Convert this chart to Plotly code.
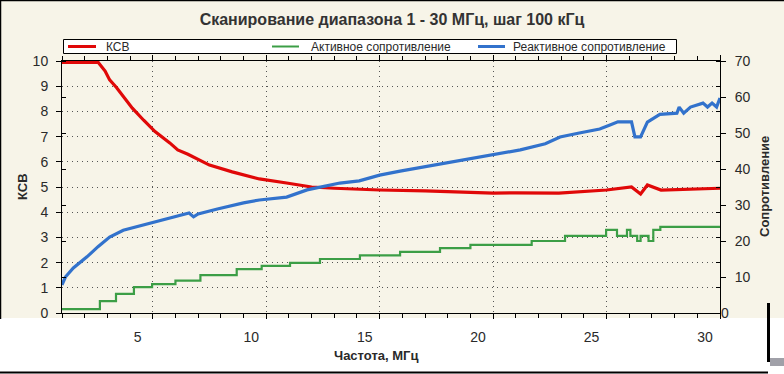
import plotly.graph_objects as go

# ---------------- data ----------------
freq_ksv = [1.0, 2.6, 2.9, 3.1, 3.4, 3.65, 4.1, 4.6, 5.1, 5.75, 6.1, 6.55, 6.8, 7.5, 8.5,
            9.7, 10.9, 12.0, 13.0, 13.8, 15.0, 17.0, 19.0, 20.0, 21.0, 22.9, 25.0, 26.1,
            26.5, 26.8, 27.4, 28.8, 29.9, 30.0]
ksv = [9.94, 9.94, 9.6, 9.25, 8.95, 8.65, 8.13, 7.65, 7.2, 6.75, 6.47, 6.3, 6.19, 5.87, 5.6,
       5.32, 5.16, 5.0, 4.95, 4.92, 4.88, 4.85, 4.8, 4.76, 4.77, 4.76, 4.88, 5.0,
       4.72, 5.08, 4.88, 4.92, 4.96, 4.95]

freq_act = [1.0, 2.67, 3.38, 4.17, 4.97, 6.0, 7.1, 8.7, 9.8, 11.05, 12.37, 14.13, 15.9, 17.66,
            19.0, 21.7, 23.17, 24.98, 25.46, 25.9, 26.05, 26.35, 26.5, 26.85, 27.06, 27.37, 30.0]
active = [1.1, 3.3, 5.3, 7.2, 8.0, 9.0, 10.5, 12.2, 13.1, 13.9, 15.0, 16.0, 17.0, 18.0,
          18.9, 20.0, 21.4, 23.1, 21.4, 23.1, 21.4, 20.0, 21.4, 20.0, 23.1, 23.9, 23.8]

freq_react = [1.0, 1.15, 1.5, 2.1, 2.6, 3.1, 3.7, 4.3, 4.9, 5.9, 6.6, 6.8, 7.0, 7.85, 9.0,
              9.7, 10.9, 11.8, 13.25, 14.1, 15.0, 15.9, 17.2, 18.5, 20.0, 21.2, 22.3, 22.95,
              23.8, 24.7, 25.15, 25.5, 26.1, 26.25, 26.5, 26.8, 27.35, 28.1, 28.2, 28.4,
              28.7, 29.25, 29.45, 29.65, 29.85, 30.0]
react = [7.8, 10.0, 12.5, 15.6, 18.5, 21.1, 23.0, 24.0, 25.0, 26.7, 27.8, 26.7, 27.5, 28.9, 30.6,
         31.4, 32.2, 34.2, 36.1, 36.7, 38.3, 39.4, 40.8, 42.2, 43.9, 45.3, 47.0, 48.9,
         50.0, 51.1, 52.2, 53.1, 53.1, 48.9, 48.9, 53.0, 55.2, 55.5, 57.2, 55.5,
         57.2, 58.3, 57.2, 58.3, 57.2, 59.7]

title_text = "Сканирование диапазона 1 - 30 МГц, шаг 100 кГц"
names = ["КСВ", "Активное сопротивление", "Реактивное сопротивление"]
x_title = "Частота, МГц"
y_title = "КСВ"
y2_title = "Сопротивление"
left_ticks = list(range(0, 11))
right_ticks = [10, 20, 30, 40, 50, 60, 70]
x_ticks = [5, 10, 15, 20, 25, 30]

# ---------------- styling ----------------
W, H = 784, 374
L, R, T, B = 62, 720, 61, 313
RED, GREEN, BLUE = "#E00808", "#3C9E46", "#3272CC"
FONT = "Liberation Sans, Arial, sans-serif"
TXT = "#2a2a2a"


def px(xp):
    return (xp - L) / (R - L)


def py(yp):
    return (B - yp) / (B - T)


fig = go.Figure()
fig.add_trace(go.Scatter(x=freq_ksv, y=ksv, mode="lines", name=names[0],
                         line=dict(color=RED, width=3.2), yaxis="y"))
fig.add_trace(go.Scatter(x=freq_act, y=active, mode="lines", name=names[1],
                         line=dict(color=GREEN, width=2.2, shape="hv"), yaxis="y2"))
fig.add_trace(go.Scatter(x=freq_react, y=react, mode="lines", name=names[2],
                         line=dict(color=BLUE, width=3.2), yaxis="y2"))

shapes = []
# cream upper background and window borders
shapes.append(dict(type="rect", xref="paper", yref="paper", x0=px(0), x1=px(W), y0=py(318),
                   y1=py(0), fillcolor="#F7F4E8", line=dict(width=0), layer="below"))
shapes.append(dict(type="line", xref="paper", yref="paper", x0=px(0.5), x1=px(0.5),
                   y0=py(0), y1=py(319), line=dict(color="black", width=1.5)))
shapes.append(dict(type="line", xref="paper", yref="paper", x0=px(0), x1=px(W),
                   y0=py(0.5), y1=py(0.5), line=dict(color="black", width=1.5)))
shapes.append(dict(type="line", xref="paper", yref="paper", x0=px(0), x1=px(768),
                   y0=py(372.5), y1=py(372.5), line=dict(color="black", width=2)))
shapes.append(dict(type="line", xref="paper", yref="paper", x0=px(768.5), x1=px(768.5),
                   y0=py(303), y1=py(362), line=dict(color="black", width=3)))
shapes.append(dict(type="rect", xref="paper", yref="paper", x0=px(770), x1=px(W),
                   y0=py(366), y1=py(358), fillcolor="#A0A0A8", line=dict(width=0)))
# legend box
shapes.append(dict(type="rect", xref="paper", yref="paper", x0=px(63.5), x1=px(676.5),
                   y0=py(53.5), y1=py(39.5), fillcolor="white", line=dict(color="black", width=1)))
leg = [(68, 96, RED, 3, 104), (272, 299, GREEN, 2, 309), (478, 505, BLUE, 3, 511)]
annotations = []
for (a, b, c, w, tx), nm in zip(leg, names):
    shapes.append(dict(type="line", xref="paper", yref="paper", x0=px(a), x1=px(b),
                       y0=py(46.5), y1=py(46.5), line=dict(color=c, width=w)))
    annotations.append(dict(text=nm, xref="paper", yref="paper", x=px(tx), y=py(46.5),
                            xanchor="left", yanchor="middle", showarrow=False,
                            font=dict(family=FONT, size=12, color=TXT)))

annotations += [
    dict(text=f"<b>{y_title}</b>", xref="paper", yref="paper", x=px(22), y=py(187),
         textangle=-90, showarrow=False, xanchor="center", yanchor="middle",
         font=dict(family=FONT, size=13, color=TXT)),
    dict(text=f"<b>{y2_title}</b>", xref="paper", yref="paper", x=px(764), y=py(187),
         textangle=-90, showarrow=False, xanchor="center", yanchor="middle",
         font=dict(family=FONT, size=13, color=TXT)),
    dict(text=f"<b>{x_title}</b>", xref="paper", yref="paper", x=px(376), y=py(355),
         showarrow=False, xanchor="center", yanchor="middle",
         font=dict(family=FONT, size=13, color=TXT)),
    dict(text="0", xref="paper", yref="paper", x=px(725), y=py(313),
         showarrow=False, xanchor="center", yanchor="middle",
         font=dict(family=FONT, size=14, color=TXT)),
]

axis_common = dict(showline=True, linecolor="black", linewidth=1, zeroline=False,
                   tickcolor="black", tickfont=dict(family=FONT, size=14, color=TXT),
                   gridcolor="#555555", griddash="1px,4px", gridwidth=1)

fig.update_layout(
    width=W, height=H,
    margin=dict(l=L, r=W - R, t=T, b=H - B),
    paper_bgcolor="white", plot_bgcolor="#FAF6E3",
    showlegend=False,
    title=dict(text=f"<b>{title_text}</b>", x=0.5, xref="container", xanchor="center",
               y=1 - 19 / H, yref="container", yanchor="middle",
               font=dict(family=FONT, size=16, color="#333333")),
    xaxis=dict(range=[1, 30], tickvals=x_ticks, ticks="outside", ticklen=5,
               mirror="ticks", showgrid=True, ticklabelshift=-15, ticklabelstandoff=6,
               minor=dict(dtick=1, tick0=0, ticks="outside", ticklen=4, tickcolor="black",
                          showgrid=False),
               **axis_common),
    yaxis=dict(range=[0, 10], tickvals=left_ticks, ticks="outside", ticklen=5,
               showgrid=True, ticklabelstandoff=5,
               minor=dict(dtick=10 / 7, tick0=0, ticks="inside", ticklen=4,
                          tickcolor="black", showgrid=False),
               **axis_common),
    yaxis2=dict(range=[0, 70], tickvals=right_ticks, overlaying="y", side="right",
                ticks="outside", ticklen=5, showgrid=False, ticklabelstandoff=6,
                minor=dict(dtick=7, tick0=0, ticks="inside", ticklen=4,
                           tickcolor="black", showgrid=False),
                **{k: v for k, v in axis_common.items() if k not in ("gridcolor", "griddash", "gridwidth")}),
    shapes=shapes,
    annotations=annotations,
)

fig.write_html("out.html", config={"displayModeBar": False},
               post_script="document.body.style.margin='0';document.body.style.overflow='hidden';")
